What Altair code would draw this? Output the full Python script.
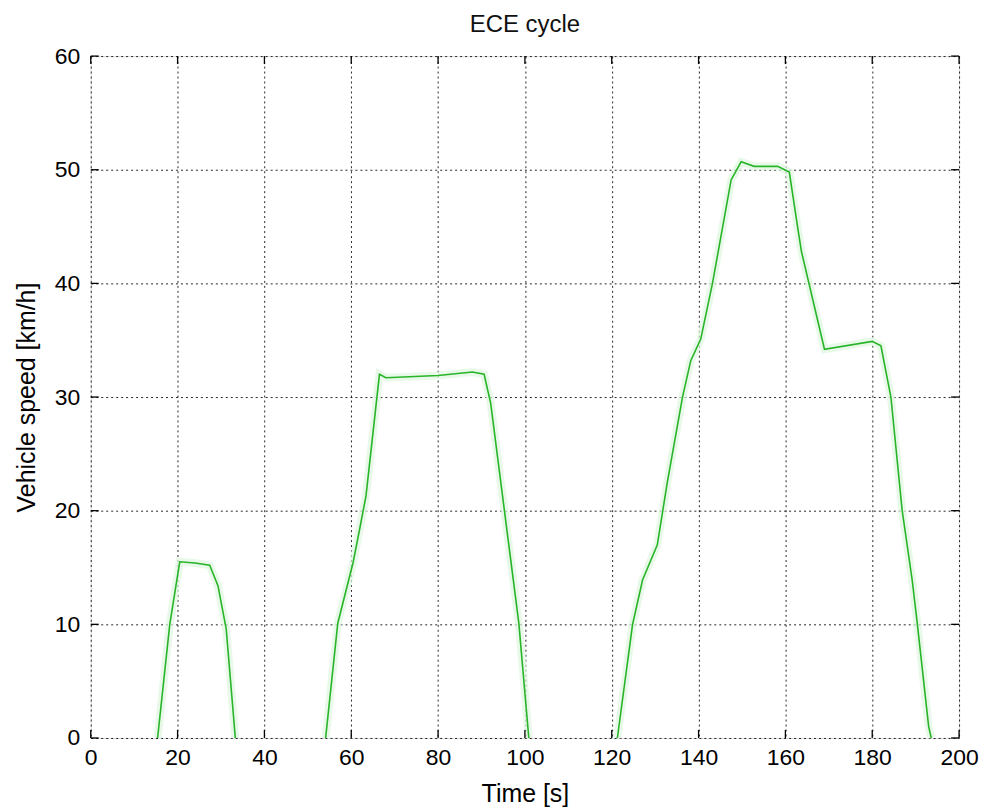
import altair as alt
import pandas as pd

# --- data (time [s], speed [km/h]) ---
seg1_t = [15.4, 18.2, 20.5, 24.0, 27.4, 29.3, 31.2, 33.3]
seg1_v = [0.0, 10.0, 15.5, 15.4, 15.2, 13.4, 9.6, 0.0]

seg2_t = [54.1, 56.9, 60.4, 61.9, 63.4, 66.5, 68.0, 80.0, 87.9, 90.6, 92.1, 98.6, 100.9]
seg2_v = [0.0, 10.1, 15.4, 18.3, 21.3, 32.0, 31.7, 31.9, 32.2, 32.0, 29.5, 10.1, 0.0]

seg3_t = [121.3, 124.8, 127.1, 130.5, 132.8, 136.3, 138.2, 140.5, 143.2, 147.5, 149.8,
          152.8, 158.2, 160.9, 162.8, 163.7, 169.0, 180.0, 182.0, 184.3, 186.9, 189.2,
          190.4, 193.0, 193.6]
seg3_v = [0.0, 10.0, 13.9, 17.0, 22.5, 30.0, 33.2, 35.1, 40.0, 49.1, 50.7,
          50.3, 50.3, 49.8, 45.0, 42.8, 34.2, 34.9, 34.5, 30.0, 20.0, 13.9,
          10.0, 1.0, 0.0]

x_ticks = [0, 20, 40, 60, 80, 100, 120, 140, 160, 180, 200]
y_ticks = [0, 10, 20, 30, 40, 50, 60]

title_text = ["ECE cycle"]

rows = []
for s, (ts, vs) in enumerate([(seg1_t, seg1_v), (seg2_t, seg2_v), (seg3_t, seg3_v)]):
    for i, (t, v) in enumerate(zip(ts, vs)):
        rows.append({"seg": s, "i": i, "t": t, "speed": v})
df = pd.DataFrame(rows)

xt = pd.DataFrame({"t": x_ticks})
yt = pd.DataFrame({"speed": y_ticks})
tt = pd.DataFrame({"label": title_text})

W, H = 871, 684
FONT = "Liberation Sans"
TXT = "#111111"
xs = alt.Scale(domain=[0, 200], nice=False, zero=False)
ys = alt.Scale(domain=[0, 60], nice=False, zero=False)

grid_style = dict(grid=True, gridColor="black", gridDash=[2, 3], gridOpacity=0.85,
                  gridWidth=1)

x_axis = alt.Axis(values=x_ticks, title="Time [s]", domain=False,
                  ticks=False, tickSize=0, labelPadding=20, labelBaseline="middle",
                  labelFontSize=23, titleFontSize=25, titleFontWeight="normal",
                  titleX=W / 2, titleY=56, titleBaseline="middle",
                  labelFlush=False, **grid_style)
y_axis = alt.Axis(values=y_ticks, title="Vehicle speed [km/h]", domain=False,
                  ticks=False, tickSize=0, labelPadding=11, labelAlign="right",
                  labelBaseline="middle", labelFontSize=23, titleFontSize=25,
                  titleFontWeight="normal", titleAngle=270, titleX=-64, titleY=H / 2,
                  titleBaseline="middle", titleAlign="center", labelFlush=False,
                  **grid_style)

halo = alt.Chart(df).mark_line(color="#dff7df", strokeWidth=8, opacity=0.7).encode(
    x=alt.X("t:Q", scale=xs, axis=x_axis),
    y=alt.Y("speed:Q", scale=ys, axis=y_axis),
    detail="seg:N", order="i:Q")

line = alt.Chart(df).mark_line(color="#28b428", strokeWidth=1.6).encode(
    x=alt.X("t:Q", scale=xs),
    y=alt.Y("speed:Q", scale=ys),
    detail="seg:N", order="i:Q")

tick_style = dict(color="black", strokeWidth=1.3)
xb = alt.Chart(xt).mark_rule(**tick_style).encode(
    x=alt.X("t:Q", scale=xs), y=alt.value(H), y2=alt.value(H - 8))
xtop = alt.Chart(xt).mark_rule(**tick_style).encode(
    x=alt.X("t:Q", scale=xs), y=alt.value(0), y2=alt.value(8))
yl = alt.Chart(yt).mark_rule(**tick_style).encode(
    y=alt.Y("speed:Q", scale=ys), x=alt.value(0), x2=alt.value(8))
yr = alt.Chart(yt).mark_rule(**tick_style).encode(
    y=alt.Y("speed:Q", scale=ys), x=alt.value(W), x2=alt.value(W - 8))

title = alt.Chart(tt).mark_text(font=FONT, fontSize=24, color=TXT, align="center",
                                baseline="middle").encode(
    text="label:N", x=alt.value(W / 2), y=alt.value(-31))

chart = alt.layer(halo, line, xb, xtop, yl, yr, title).properties(
    width=W, height=H,
    autosize=alt.AutoSizeParams(type="none"),
    padding={"left": 83, "top": 47, "right": 20, "bottom": 70},
).configure_view(
    stroke="black", strokeWidth=1.6
).configure_axis(
    labelFont=FONT, titleFont=FONT, labelColor=TXT, titleColor=TXT
).configure(background="white")

chart.save("out.html", embed_options={"renderer": "svg", "actions": False})
